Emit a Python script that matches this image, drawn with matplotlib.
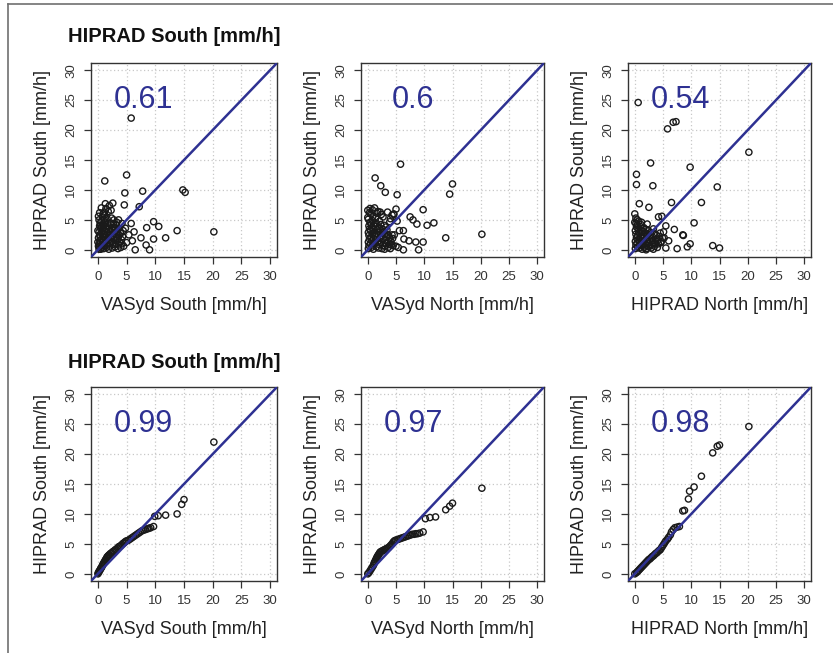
import matplotlib
matplotlib.use("Agg")
import matplotlib.pyplot as plt
from matplotlib.lines import Line2D

plt.rcParams['font.family'] = ['Liberation Sans', 'DejaVu Sans']

# ---------------- data ----------------
title_text = "HIPRAD South [mm/h]"
y_label = "HIPRAD South [mm/h]"
x_labels = ["VASyd South [mm/h]", "VASyd North [mm/h]", "HIPRAD North [mm/h]"]
corr_top = ["0.61", "0.6", "0.54"]
corr_bottom = ["0.99", "0.97", "0.98"]
ticks = [0, 5, 10, 15, 20, 25, 30]

# Panel 1: VASyd South vs HIPRAD South
p1_x = [5.8, 1.2, 5.0, 4.7, 7.8, 14.8, 15.2, 7.2, 4.6, 2.6, 2.0, 1.3, 1.1, 1.8, 2.3, 5.8, 9.7, 8.5,
        10.6, 13.8, 20.2, 6.3, 7.5, 9.7, 11.8, 6.5, 9.0, 8.4, 5.0, 4.5, 6.0, 5.4, 4.8, 4.2, 3.6, 3.2,
        0.2, 0.3, 0.2, 0.4, 0.1, 0.3, 0.2, 0.5, 0.3, 0.4, 0.2, 0.6, 0.7, 0.8, 0.6, 0.9, 0.7, 0.8,
        0.6, 0.9, 0.7, 0.8, 1.0, 1.1, 1.2, 1.0, 1.3, 1.1, 1.2, 1.4, 1.0, 1.3, 1.1, 1.2, 1.5, 1.6,
        1.4, 1.7, 1.5, 1.6, 1.8, 1.5, 1.7, 1.6, 1.9, 2.0, 2.1, 1.9, 2.2, 2.0, 2.1, 2.3, 1.9, 2.2,
        2.4, 2.5, 2.6, 2.4, 2.7, 2.5, 2.8, 2.6, 2.9, 2.7, 3.0, 3.1, 3.3, 3.0, 3.2, 3.4, 3.1, 3.5,
        3.6, 3.8, 3.5, 3.7, 3.9, 3.6, 4.0, 4.2, 4.1, 4.3, 4.0, 4.4, 0.1, 0.5, 0.0, 0.4, 0.0, 0.5,
        0.1, 0.3, 0.9, 1.4, 2.8, 3.3, 0.6]
p1_y = [22.0, 11.5, 12.5, 9.5, 9.8, 10.0, 9.6, 7.2, 7.5, 7.8, 7.4, 7.7, 6.3, 6.4, 6.6, 4.4, 4.7, 3.7,
        3.9, 3.2, 3.0, 3.0, 2.0, 1.8, 2.0, 0.0, 0.0, 0.8, 1.2, 0.6, 1.5, 2.5, 3.6, 4.4, 5.0, 4.2,
        0.1, 0.5, 1.0, 1.5, 2.0, 2.5, 3.0, 3.5, 4.0, 4.5, 5.0, 0.3, 0.8, 1.3, 1.8, 2.2, 2.8, 3.3,
        3.8, 4.3, 4.8, 5.5, 0.2, 0.7, 1.2, 1.7, 2.1, 2.6, 3.1, 3.6, 4.1, 4.6, 5.1, 5.8, 0.4, 0.9,
        1.4, 1.9, 2.4, 2.9, 3.4, 3.9, 4.4, 5.2, 0.1, 0.6, 1.1, 1.6, 2.0, 2.5, 3.0, 3.5, 4.0, 4.5,
        5.3, 0.3, 0.9, 1.4, 1.8, 2.3, 2.8, 3.3, 3.8, 4.3, 0.5, 1.0, 1.6, 2.1, 2.6, 3.1, 3.6, 0.2,
        0.8, 1.3, 1.9, 2.4, 2.9, 3.5, 0.4, 1.0, 1.7, 2.2, 2.8, 3.2, 0.6, 0.1, 1.3, 2.2, 3.2, 4.1,
        5.6, 6.2, 6.0, 6.9, 5.0, 4.6, 7.0]

# Panel 2: VASyd North vs HIPRAD South
p2_x = [5.8, 1.3, 2.3, 3.1, 5.2, 14.5, 15.0, 9.8, 7.5, 8.0, 8.7, 10.5, 11.7, 5.0, 4.6, 5.6, 6.3, 6.4,
        7.3, 8.5, 9.8, 13.8, 20.2, 6.3, 9.0, 5.0, 5.4, 4.7, 5.2, 4.3, 1.2, 3.5, 2.7, 3.9,
        0.1, 0.2, 0.1, 0.3, 0.2, 0.1, 0.3, 0.2, 0.4, 0.1, 0.5, 0.6, 0.5, 0.7, 0.6, 0.8, 0.5, 0.7,
        0.6, 0.8, 0.9, 1.0, 0.9, 1.1, 1.0, 1.2, 0.9, 1.1, 1.0, 1.3, 1.4, 1.5, 1.3, 1.6, 1.4, 1.5,
        1.7, 1.4, 1.6, 1.8, 1.9, 2.0, 1.8, 2.1, 1.9, 2.2, 2.0, 2.3, 2.1, 2.4, 2.5, 2.6, 2.4, 2.7,
        2.5, 2.8, 2.6, 2.9, 3.0, 3.2, 3.1, 3.3, 3.0, 3.4, 3.2, 3.6, 3.8, 3.7, 3.9, 3.5, 4.0, 4.2,
        4.1, 4.4, 4.3, 4.5, 0.0, 0.4, 0.0, 0.3, 0.8, 1.6, 2.2, 4.0, 4.6, 3.0]
p2_y = [14.3, 12.0, 10.7, 9.6, 9.2, 9.3, 11.0, 6.7, 5.5, 5.0, 4.3, 4.1, 4.5, 6.8, 6.0, 3.2, 3.2, 1.8,
        1.5, 1.3, 1.3, 2.0, 2.6, 0.0, 0.0, 0.6, 0.4, 2.5, 4.8, 5.8, 7.0, 6.3, 5.5, 4.7,
        0.2, 0.7, 1.3, 1.8, 2.4, 2.9, 3.5, 4.0, 4.6, 5.1, 6.0, 0.4, 1.0, 1.5, 2.1, 2.6, 3.2, 3.7,
        4.3, 4.9, 5.6, 0.1, 0.8, 1.2, 1.9, 2.3, 2.8, 3.4, 4.1, 4.5, 5.3, 0.5, 1.1, 1.7, 2.2, 2.7,
        3.3, 3.9, 4.4, 6.4, 0.3, 0.9, 1.4, 2.0, 2.5, 3.0, 3.6, 4.2, 4.8, 5.9, 0.2, 0.7, 1.3, 1.8,
        2.4, 2.9, 3.5, 4.1, 0.6, 1.1, 1.6, 2.2, 2.7, 3.3, 3.8, 0.4, 0.9, 1.5, 2.0, 2.6, 0.2, 0.8,
        1.4, 1.9, 2.5, 0.7, 6.6, 6.9, 5.4, 6.2, 6.7, 6.1, 6.3, 5.2, 5.9, 0.1]

# Panel 3: HIPRAD North vs HIPRAD South
p3_x = [0.6, 5.8, 6.8, 7.3, 20.2, 2.8, 0.3, 0.3, 3.2, 9.8, 14.6, 0.8, 2.5, 6.5, 11.8, 10.5, 4.2, 4.8,
        7.0, 8.5, 8.6, 5.5, 7.5, 9.3, 9.8, 13.8, 15.0, 5.5, 0.0, 0.2, 5.2, 4.6, 3.3, 2.0, 6.0,
        0.1, 0.2, 0.1, 0.3, 0.2, 0.1, 0.3, 0.2, 0.4, 0.5, 0.4, 0.6, 0.5, 0.7, 0.6, 0.4, 0.8, 0.9,
        0.8, 1.0, 0.9, 1.1, 1.0, 1.2, 1.3, 1.2, 1.4, 1.3, 1.5, 1.4, 1.6, 1.7, 1.6, 1.8, 1.7, 1.9,
        2.0, 2.1, 2.0, 2.2, 2.1, 2.3, 2.4, 2.5, 2.4, 2.6, 2.7, 2.8, 2.9, 3.0, 3.1, 3.2, 3.4, 3.3,
        3.5, 3.6, 3.8, 3.9, 4.0, 4.2, 4.1, 4.4, 4.5, 4.7, 4.9, 5.1, 1.1, 0.7, 1.5, 2.2, 3.7, 0.0]
p3_y = [24.6, 20.2, 21.3, 21.4, 16.3, 14.5, 12.6, 10.9, 10.7, 13.8, 10.5, 7.7, 7.1, 7.9, 7.9, 4.5, 5.5, 5.6,
        3.4, 2.5, 2.4, 4.0, 0.2, 0.5, 1.0, 0.7, 0.3, 0.3, 6.0, 5.3, 2.0, 1.2, 0.1, 0.0, 1.5,
        0.2, 0.8, 1.4, 2.0, 2.6, 3.2, 3.8, 4.4, 5.0, 0.5, 1.1, 1.7, 2.3, 2.9, 3.5, 4.1, 0.3, 0.9,
        1.5, 2.1, 2.7, 3.3, 3.9, 4.6, 0.1, 0.7, 1.3, 1.9, 2.5, 3.1, 3.7, 0.4, 1.0, 1.6, 2.2, 2.8,
        3.4, 0.2, 0.8, 1.4, 2.0, 2.6, 3.2, 0.5, 1.1, 1.7, 2.3, 2.9, 0.3, 0.9, 1.5, 2.1, 2.7, 3.5,
        0.6, 1.2, 1.8, 2.4, 0.4, 1.0, 1.6, 2.2, 2.8, 1.4, 2.0, 3.0, 4.2, 4.8, 3.6, 4.3, 1.0, 4.6]

# Quantile-quantile panels (sorted values)
q1_x = [0.0, 0.1, 0.2, 0.3, 0.4, 0.5, 0.6, 0.7, 0.8, 0.9, 1.0, 1.1, 1.2, 1.3, 1.4, 1.5, 1.6, 1.7, 1.8,
        1.9, 2.0, 2.2, 2.4, 2.6, 2.8, 3.0, 3.2, 3.4, 3.6, 3.8, 4.0, 4.2, 4.4, 4.6, 4.8, 5.0, 5.3, 5.6,
        5.9, 6.2, 6.5, 6.8, 7.1, 7.4, 7.7, 8.0, 8.3, 8.6, 8.9, 9.2, 9.7, 9.9, 10.5, 11.8, 13.8, 14.6,
        15.0, 20.2]
q1_y = [0.0, 0.2, 0.4, 0.5, 0.7, 0.9, 1.0, 1.2, 1.4, 1.6, 1.8, 1.9, 2.1, 2.3, 2.4, 2.6, 2.8, 2.9, 3.0,
        3.1, 3.2, 3.4, 3.5, 3.7, 3.8, 4.0, 4.1, 4.3, 4.5, 4.6, 4.7, 4.9, 5.1, 5.2, 5.4, 5.5, 5.6, 5.8,
        6.0, 6.2, 6.4, 6.6, 6.8, 7.0, 7.2, 7.3, 7.4, 7.5, 7.6, 7.7, 7.9, 9.6, 9.7, 9.8, 10.0, 11.6,
        12.4, 22.0]
q2_x = [0.0, 0.2, 0.4, 0.6, 0.8, 1.0, 1.1, 1.2, 1.3, 1.4, 1.5, 1.6, 1.7, 1.8, 1.9, 2.0, 2.1, 2.2, 2.3,
        2.5, 2.7, 2.9, 3.1, 3.3, 3.5, 3.7, 3.9, 4.1, 4.3, 4.5, 4.7, 4.9, 5.2, 5.5, 5.8, 6.1, 6.4, 6.7,
        7.0, 7.3, 7.6, 7.9, 8.2, 8.5, 8.8, 9.2, 9.8, 10.2, 11.0, 12.0, 13.8, 14.5, 15.0, 20.2]
q2_y = [0.0, 0.2, 0.5, 0.8, 1.1, 1.4, 1.7, 1.9, 2.1, 2.3, 2.5, 2.7, 2.9, 3.0, 3.2, 3.3, 3.5, 3.6, 3.7,
        3.8, 3.9, 4.0, 4.1, 4.2, 4.3, 4.4, 4.6, 4.8, 5.0, 5.3, 5.5, 5.6, 5.7, 5.8, 5.9, 6.0, 6.1, 6.2,
        6.3, 6.4, 6.5, 6.6, 6.6, 6.7, 6.7, 6.8, 7.0, 9.2, 9.4, 9.5, 10.7, 11.3, 11.8, 14.3]
q3_x = [0.0, 0.3, 0.5, 0.7, 0.9, 1.1, 1.3, 1.5, 1.7, 1.9, 2.1, 2.3, 2.5, 2.7, 2.9, 3.1, 3.3, 3.5, 3.7,
        3.9, 4.1, 4.3, 4.5, 4.7, 4.9, 5.1, 5.3, 5.5, 5.8, 6.0, 6.3, 6.5, 6.8, 7.1, 7.5, 7.9, 8.5, 8.8,
        9.5, 9.7, 10.5, 11.8, 13.8, 14.6, 15.0, 20.2]
q3_y = [0.0, 0.2, 0.4, 0.6, 0.8, 1.0, 1.2, 1.4, 1.6, 1.8, 2.0, 2.2, 2.4, 2.5, 2.7, 2.9, 3.0, 3.2, 3.4,
        3.5, 3.7, 3.9, 4.0, 4.3, 4.6, 4.9, 5.2, 5.5, 5.8, 6.1, 6.5, 7.0, 7.4, 7.7, 7.8, 7.9, 10.5, 10.6,
        12.5, 13.8, 14.5, 16.3, 20.2, 21.3, 21.5, 24.6]

# ---------------- figure ----------------
W, H = 833, 653
fig = plt.figure(figsize=(W / 100, H / 100), dpi=100)
fig.patch.set_facecolor('white')

line_color = '#2e3192'
text_color = '#2e3192'

def px_axes(left, top, right, bottom):
    return fig.add_axes([left / W, 1 - bottom / H, (right - left) / W, (bottom - top) / H])

lefts = [(91, 277), (361, 544), (628, 811)]
rows = [(63, 257), (387, 581)]
data_top = [(p1_x, p1_y), (p2_x, p2_y), (p3_x, p3_y)]
data_bot = [(q1_x, q1_y), (q2_x, q2_y), (q3_x, q3_y)]

for r, (top, bottom) in enumerate(rows):
    for c, (l, rr) in enumerate(lefts):
        ax = px_axes(l, top, rr, bottom)
        xs, ys = (data_top if r == 0 else data_bot)[c]
        ax.set_xlim(-1.2, 31.2)
        ax.set_ylim(-1.2, 31.2)
        ax.set_xticks(ticks)
        ax.set_yticks(ticks)
        ax.grid(True, color='#c8c8c8', linestyle=(0, (1, 2)), linewidth=0.9)
        ax.set_axisbelow(True)
        ax.scatter(xs, ys, s=20, facecolors='none', edgecolors='#1a1a1a', linewidths=1.0, zorder=3)
        ax.plot([-2, 33], [-2, 33], color=line_color, linewidth=1.8, zorder=4)
        txt = (corr_top if r == 0 else corr_bottom)[c]
        ax.text(8.0, 25.0, txt, color=text_color, fontsize=22, ha='center', va='center', zorder=5)
        for s in ax.spines.values():
            s.set_color('#333333')
            s.set_linewidth(1.0)
        ax.tick_params(direction='out', length=5, width=0.9, color='#333333',
                       labelsize=9.5, labelcolor='#333333', pad=5)
        for lab in ax.get_yticklabels():
            lab.set_rotation(90)
            lab.set_va('center')
        ax.set_xlabel(x_labels[c], fontsize=13, color='#222222', labelpad=10)
        ax.set_ylabel(y_label, fontsize=13, color='#222222', labelpad=10)

fig.text(68 / W, 1 - 37 / H, title_text, fontsize=14.5, fontweight='bold', ha='left', va='center', color='#111111')
fig.text(68 / W, 1 - 363 / H, title_text, fontsize=14.5, fontweight='bold', ha='left', va='center', color='#111111')

# page border (top and left)
fig.add_artist(Line2D([8 / W, 8 / W], [0, 1 - 4 / H], transform=fig.transFigure, color='#707070', linewidth=1.2))
fig.add_artist(Line2D([8 / W, 1], [1 - 4 / H, 1 - 4 / H], transform=fig.transFigure, color='#707070', linewidth=1.2))

fig.savefig('out.png', dpi=100)
